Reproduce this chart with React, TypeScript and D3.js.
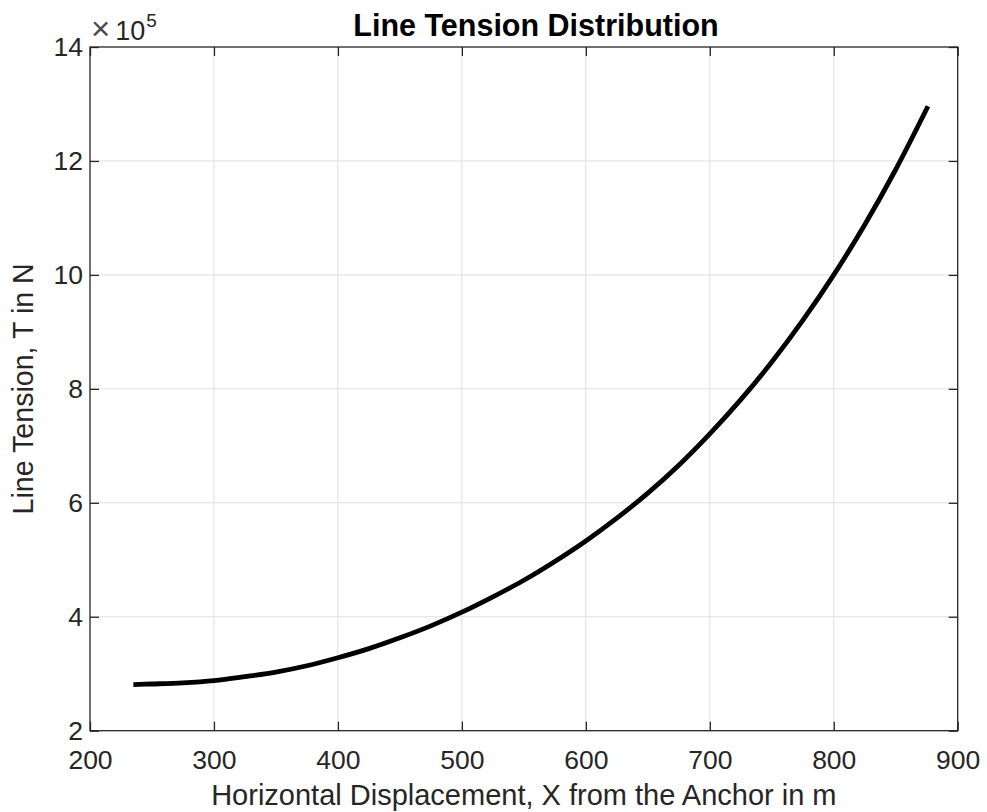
import React, { useEffect, useRef } from "react";
import * as d3 from "d3";

// displacement (m) and tension (x10^5 N)
const xValues = [
  235, 250, 275, 300, 325, 350, 375, 400, 425, 450, 475, 500, 525, 550, 575,
  600, 625, 650, 675, 700, 725, 750, 775, 800, 825, 850, 876,
];
const tension = [
  2.81, 2.82, 2.84, 2.88, 2.95, 3.03, 3.14, 3.28, 3.44, 3.63, 3.84, 4.08, 4.35,
  4.64, 4.97, 5.33, 5.73, 6.17, 6.66, 7.21, 7.81, 8.47, 9.2, 10.0, 10.88,
  11.85, 12.96,
];
const xTicks = [200, 300, 400, 500, 600, 700, 800, 900];
const yTicks = [2, 4, 6, 8, 10, 12, 14];

const width = 987;
const height = 812;
const margin = { top: 47, right: 29.3, bottom: 81.3, left: 90 };
const axisColor = "#262626";
const font = "'Liberation Sans', Arial, Helvetica, sans-serif";

const App: React.FC = () => {
  const svgRef = useRef<SVGSVGElement>(null);

  useEffect(() => {
    if (!svgRef.current) return;
    const svg = d3.select(svgRef.current);
    svg.selectAll("*").remove();

    const innerWidth = width - margin.left - margin.right;
    const innerHeight = height - margin.top - margin.bottom;

    const xScale = d3.scaleLinear().domain([200, 900]).range([0, innerWidth]);
    const yScale = d3.scaleLinear().domain([2, 14]).range([innerHeight, 0]);

    svg
      .append("rect")
      .attr("width", width)
      .attr("height", height)
      .attr("fill", "#ffffff");

    const g = svg
      .append("g")
      .attr("transform", `translate(${margin.left},${margin.top})`);

    // grid
    g.append("g")
      .selectAll("line")
      .data(xTicks.slice(1, -1))
      .enter()
      .append("line")
      .attr("x1", (d) => xScale(d))
      .attr("x2", (d) => xScale(d))
      .attr("y1", 0)
      .attr("y2", innerHeight)
      .attr("stroke", "#dfdfdf")
      .attr("stroke-width", 1);

    g.append("g")
      .selectAll("line")
      .data(yTicks.slice(1, -1))
      .enter()
      .append("line")
      .attr("x1", 0)
      .attr("x2", innerWidth)
      .attr("y1", (d) => yScale(d))
      .attr("y2", (d) => yScale(d))
      .attr("stroke", "#dfdfdf")
      .attr("stroke-width", 1);

    // curve
    const line = d3
      .line<number>()
      .x((d, i) => xScale(xValues[i]))
      .y((d) => yScale(d))
      .curve(d3.curveCatmullRom);

    g.append("path")
      .datum(tension)
      .attr("d", line)
      .attr("fill", "none")
      .attr("stroke", "#000000")
      .attr("stroke-width", 4.8);

    // box
    g.append("rect")
      .attr("width", innerWidth)
      .attr("height", innerHeight)
      .attr("fill", "none")
      .attr("stroke", axisColor)
      .attr("stroke-width", 1.3);

    // inward ticks on all four sides
    const tickLen = 9;
    g.append("g")
      .attr("transform", `translate(0,${innerHeight})`)
      .call(d3.axisBottom(xScale).tickValues(xTicks).tickSizeInner(-tickLen).tickSizeOuter(0).tickPadding(19))
      .call((a) => a.select(".domain").remove());
    g.append("g")
      .call(d3.axisTop(xScale).tickValues(xTicks).tickSizeInner(-tickLen).tickSizeOuter(0).tickFormat(() => ""))
      .call((a) => a.select(".domain").remove());
    g.append("g")
      .call(d3.axisLeft(yScale).tickValues(yTicks).tickSizeInner(-tickLen).tickSizeOuter(0).tickPadding(7))
      .call((a) => a.select(".domain").remove());
    g.append("g")
      .attr("transform", `translate(${innerWidth},0)`)
      .call(d3.axisRight(yScale).tickValues(yTicks).tickSizeInner(-tickLen).tickSizeOuter(0).tickFormat(() => ""))
      .call((a) => a.select(".domain").remove());

    g.selectAll(".tick line")
      .attr("stroke", axisColor)
      .attr("stroke-width", 1.3);
    g.selectAll(".tick text")
      .attr("fill", axisColor)
      .attr("font-family", font)
      .attr("font-size", "26.5px");

    // exponent label
    const expo = svg
      .append("text")
      .attr("x", margin.left + 1)
      .attr("y", 40)
      .attr("fill", axisColor)
      .attr("font-family", font)
      .attr("font-size", "27px");
    expo
      .append("tspan")
      .attr("font-size", "33px")
      .attr("fill", "#4a4a4a")
      .text("\u00d7");
    expo.append("tspan").attr("dx", 5).text("10");
    expo
      .append("tspan")
      .attr("font-size", "19px")
      .attr("dy", -13)
      .attr("dx", 1)
      .text("5");

    // title
    svg
      .append("text")
      .attr("x", 536)
      .attr("y", 36)
      .attr("text-anchor", "middle")
      .attr("fill", "#000000")
      .attr("font-family", font)
      .attr("font-size", "30.5px")
      .attr("font-weight", "bold")
      .text("Line Tension Distribution");

    // axis labels
    svg
      .append("text")
      .attr("x", margin.left + innerWidth / 2)
      .attr("y", 805)
      .attr("text-anchor", "middle")
      .attr("fill", axisColor)
      .attr("font-family", font)
      .attr("font-size", "29px")
      .text("Horizontal Displacement, X from the Anchor in m");

    svg
      .append("text")
      .attr("transform", `translate(33,${margin.top + innerHeight / 2}) rotate(-90)`)
      .attr("text-anchor", "middle")
      .attr("fill", axisColor)
      .attr("font-family", font)
      .attr("font-size", "28.6px")
      .text("Line Tension, T in N");
  }, []);

  return (
    <svg
      ref={svgRef}
      width={width}
      height={height}
      style={{ position: "absolute", left: 0, top: 0 }}
    />
  );
};

export default App;
